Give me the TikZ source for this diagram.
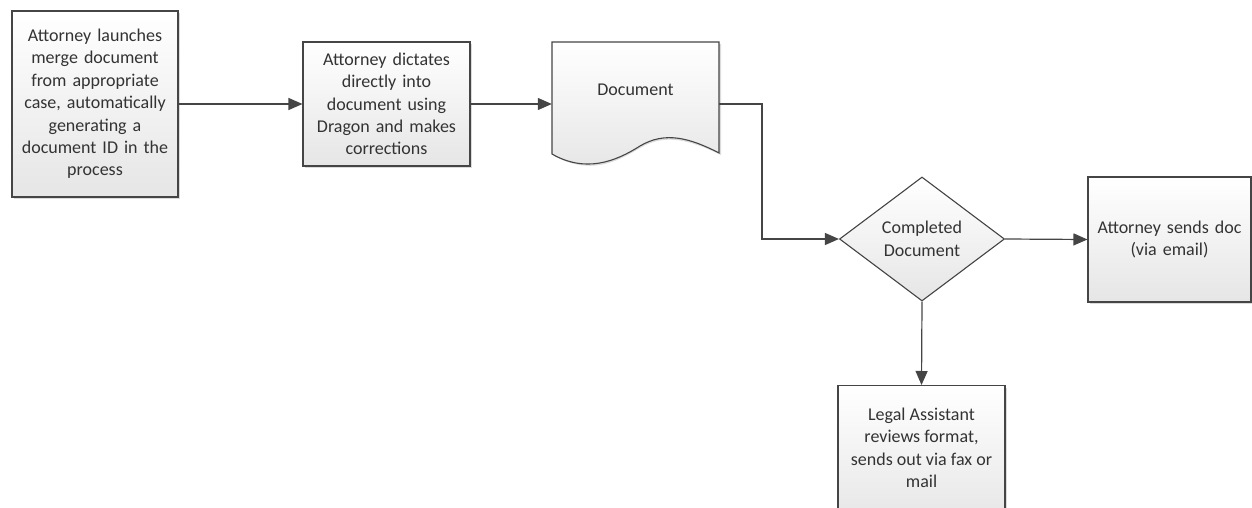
\documentclass[tikz,border=0pt]{standalone}
\usepackage{fontspec}
\setmainfont{Carlito}
\usetikzlibrary{arrows.meta,shapes.geometric,shadows,calc}
\definecolor{edge}{HTML}{454545}
\definecolor{ink}{HTML}{333333}
\begin{document}
\begin{tikzpicture}[x=1pt,y=-1pt,
  font=\fontsize{18}{22.4}\selectfont,
  every node/.style={text=ink},
  procbox/.style={draw=edge, line width=1.1pt, top color=white, bottom color=black!10,
    drop shadow={shadow xshift=2pt, shadow yshift=-2pt, fill=black!14, opacity=1},
    align=center, inner sep=0pt},
  flow/.style={draw=edge, line width=1.2pt, -{Triangle[length=14pt,width=12pt]}}]
\useasboundingbox (0,0) rectangle (1252,508);

% process boxes
\node[procbox, minimum width=166pt, minimum height=186pt, text width=160pt] (launch) at (95,104)
  {Attorney launches\\merge document\\from appropriate\\case, automatically\\generating a\\document ID in the\\process};
\node[procbox, minimum width=167pt, minimum height=124pt, text width=160pt] (dictate) at (386.5,104)
  {Attorney dictates\\directly into\\document using\\Dragon and makes\\corrections};

% document shape
\coordinate (dtl) at (552,42);
\coordinate (dtr) at (719,42);
\coordinate (dbr) at (719,153);
\coordinate (dbl) at (552,154);
\fill[black!14] ($(dtl)+(2,2)$) -- ($(dtr)+(2,2)$) -- ($(dbr)+(2,2)$)
  .. controls (690,140) and (665,133) .. (640,148)
  .. controls (615,163) and (590,175) .. ($(dbl)+(2,2)$) -- cycle;
\shade[top color=white, bottom color=black!10] (dtl) -- (dtr) -- (dbr)
  .. controls (690,138) and (665,131) .. (640,146)
  .. controls (615,162) and (585,173) .. (dbl) -- cycle;
\draw[edge, line width=1.1pt] (dtl) -- (dtr) -- (dbr)
  .. controls (690,138) and (665,131) .. (640,146)
  .. controls (615,162) and (585,173) .. (dbl) -- cycle;
\node[minimum width=167pt, minimum height=112pt, inner sep=0pt] (doc) at (635.5,98) {};
\node at (635.5,90) {Document};

% decision
\node[diamond, draw=edge, line width=1.1pt, top color=white, bottom color=black!10,
  minimum width=165pt, minimum height=124pt, inner sep=0pt, aspect=1.33, align=center]
  (done) at (922,239) {Completed\\Document};

\node[procbox, minimum width=163pt, minimum height=125pt, text width=160pt] (email) at (1169.5,239.5)
  {Attorney sends doc\\(via email)};
\node[procbox, minimum width=167pt, minimum height=140pt, anchor=north] (legal) at (921.5,385)
  {};
\node[align=center] at (921.5,448) {Legal Assistant\\reviews format,\\sends out via fax or\\mail};

% connectors
\draw[flow] (launch.east) -- (dictate.west);
\draw[flow] (dictate.east) -- (doc.west |- dictate.east);
\coordinate (bend) at (762,104);
\draw[flow] (doc.east |- dictate.east) -- (bend) |- (done.west);
\draw[flow] (done.east) -- (email.west);
\draw[flow] (done.south) -- (legal.north);
\end{tikzpicture}
\end{document}
